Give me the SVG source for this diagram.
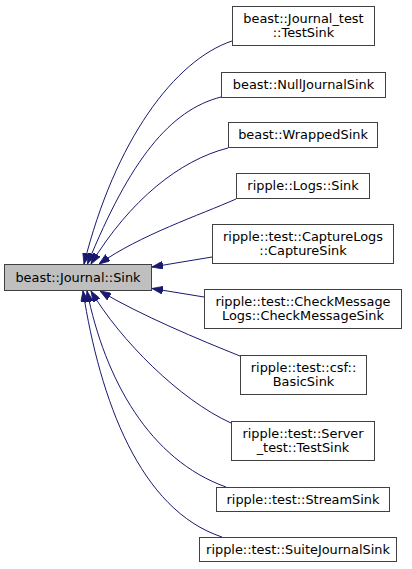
<svg xmlns="http://www.w3.org/2000/svg" width="412" height="569" viewBox="0 0 412 569">
<style>
.n rect{fill:#ffffff;stroke:#404040;stroke-width:1}
.n.base rect{fill:#bfbfbf}
.n text{font-family:"DejaVu Sans",sans-serif;font-size:12.9px;fill:#000000;text-anchor:middle}
.e path{fill:none;stroke:#191970;stroke-width:1;marker-end:url(#ah)}
</style>
<defs>
<marker id="ah" viewBox="0 0 11 8" refX="11" refY="4" markerWidth="11" markerHeight="8" markerUnits="userSpaceOnUse" orient="auto">
<path d="M0,0 L11,4 L0,8 z" fill="#191970" stroke="#191970" stroke-width="0.8"/>
</marker>
</defs>
<rect width="412" height="569" fill="#ffffff"/>
<g id="edges" class="e">
<path d="M232,41 C175,60 115,140 84,264"/>
<path d="M221,97 C170,110 130,160 87.5,264"/>
<path d="M228,148 C180,160 130,200 91,264"/>
<path d="M236,199 C200,215 140,235 99,264"/>
<path d="M212,257 L152,267"/>
<path d="M204,297 L152,288.5"/>
<path d="M240,356 C200,340 140,315 100,291"/>
<path d="M231,423 C180,400 120,340 91,291"/>
<path d="M226,487 C150,460 105,380 87,291"/>
<path d="M222,537 C140,510 100,400 83,291"/>
</g>
<g id="node_journal_sink" class="n base">
<rect x="4.5" y="264.5" width="147" height="26"/>
<text x="78" y="282">beast::Journal::Sink</text>
</g>
<g id="node_journal_test_testsink" class="n">
<rect x="232.5" y="6.5" width="142" height="39"/>
<text x="303.5" y="23">beast::Journal_test</text>
<text x="303.5" y="37">::TestSink</text>
</g>
<g id="node_nulljournalsink" class="n">
<rect x="221.5" y="72.5" width="164" height="25"/>
<text x="303.5" y="89">beast::NullJournalSink</text>
</g>
<g id="node_wrappedsink" class="n">
<rect x="228.5" y="122.5" width="149" height="25"/>
<text x="303" y="139">beast::WrappedSink</text>
</g>
<g id="node_logs_sink" class="n">
<rect x="236.5" y="173.5" width="133" height="25"/>
<text x="303" y="190">ripple::Logs::Sink</text>
</g>
<g id="node_capturesink" class="n">
<rect x="212.5" y="224.5" width="181" height="39"/>
<text x="303" y="241">ripple::test::CaptureLogs</text>
<text x="303" y="255">::CaptureSink</text>
</g>
<g id="node_checkmessagesink" class="n">
<rect x="204.5" y="289.5" width="197" height="39"/>
<text x="303" y="306">ripple::test::CheckMessage</text>
<text x="303" y="320">Logs::CheckMessageSink</text>
</g>
<g id="node_basicsink" class="n">
<rect x="240.5" y="355.5" width="126" height="39"/>
<text x="303.5" y="372">ripple::test::csf::</text>
<text x="303.5" y="386">BasicSink</text>
</g>
<g id="node_server_test_testsink" class="n">
<rect x="231.5" y="421.5" width="143" height="39"/>
<text x="303" y="438">ripple::test::Server</text>
<text x="303" y="452">_test::TestSink</text>
</g>
<g id="node_streamsink" class="n">
<rect x="216.5" y="487.5" width="173" height="24"/>
<text x="303" y="504">ripple::test::StreamSink</text>
</g>
<g id="node_suitejournalsink" class="n">
<rect x="199.5" y="537.5" width="197" height="24"/>
<text x="298" y="554">ripple::test::SuiteJournalSink</text>
</g>
</svg>
